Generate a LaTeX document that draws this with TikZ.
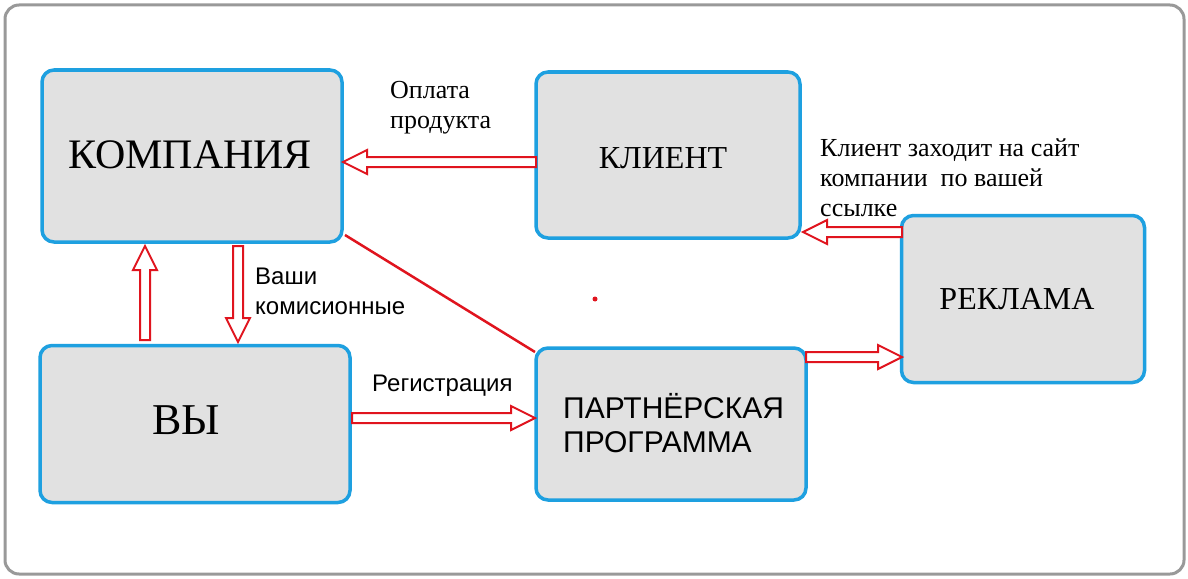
\documentclass[tikz,border=0pt]{standalone}
\usepackage{fontspec}
\setmainfont{Liberation Serif}
\newfontfamily\arial{Liberation Sans}
\usetikzlibrary{calc}
\definecolor{bblue}{HTML}{1EA0E0}
\definecolor{bgray}{HTML}{E1E1E1}
\definecolor{ared}{HTML}{E0141E}
\tikzset{
 box/.style={draw=bblue,line width=3.5pt,fill=bgray,rounded corners=12pt,inner sep=0pt},
 lbl/.style={font=\fontsize{26}{30}\selectfont,align=left,anchor=north west,inner sep=0pt},
 slbl/.style={font=\arial\fontsize{24}{30}\selectfont,align=left,anchor=north west,inner sep=0pt},
 ba/.style={draw=ared,line width=2pt,fill=white,line join=miter}
}
\newcommand\blockarr[2]{%
 \path let \p1=(#1),\p2=(#2),\n1={atan2(\y2-\y1,\x2-\x1)},\n2={veclen(\x2-\x1,\y2-\y1)} in
 [ba,shift={(\x1,\y1)},rotate=\n1]
 (0,-5) -- ({\n2-24},-5) -- ({\n2-24},-12) -- (\n2,0) -- ({\n2-24},12) -- ({\n2-24},5) -- (0,5) -- cycle;}
\begin{document}
\begin{tikzpicture}[x=1pt,y=-1pt]
\useasboundingbox (0,0) rectangle (1188,578);
\draw[draw=gray!80,line width=3pt,rounded corners=14pt,fill=white] (5,5) rectangle (1184,574);
\node[box,minimum width=300pt,minimum height=172pt] (komp) at (192,156) {};
\node[font=\fontsize{42}{46}\selectfont] at (190,155) {КОМПАНИЯ};
\node[box,minimum width=264pt,minimum height=166pt] (kl) at (668,155) {};
\node[font=\fontsize{32}{36}\selectfont] at (663,158) {КЛИЕНТ};
\node[box,minimum width=310pt,minimum height=157pt] (vy) at (195,424) {};
\node[font=\fontsize{44}{48}\selectfont] at (186,420) {ВЫ};
\node[box,minimum width=270pt,minimum height=152pt] (pp) at (671,424) {};
\node[font=\arial\fontsize{30}{34}\selectfont,align=left,anchor=west,inner sep=0pt] at (563,423) {ПАРТНЁРСКАЯ\\ПРОГРАММА};
\node[box,minimum width=243pt,minimum height=167pt] (rek) at (1023,299) {};
\node[font=\fontsize{32}{36}\selectfont] at (1017,299) {РЕКЛАМА};
% arrows
\coordinate (a1) at (536,162); \coordinate (a2) at (343,162);
\blockarr{a1}{a2}
\coordinate (b1) at (145,340); \coordinate (b2) at (145,246);
\blockarr{b1}{b2}
\coordinate (c1) at (238,246); \coordinate (c2) at (238,342);
\blockarr{c1}{c2}
\coordinate (d1) at (352,418); \coordinate (d2) at (535,418);
\blockarr{d1}{d2}
\coordinate (e1) at (806,357); \coordinate (e2) at (902,357);
\blockarr{e1}{e2}
\coordinate (f1) at (902,232); \coordinate (f2) at (803,232);
\blockarr{f1}{f2}
\coordinate (g1) at (345,235); \coordinate (g2) at (535,352);
\draw[ared,line width=2.5pt] (g1) -- (g2);
\fill[ared] (595,299) circle (2.5pt);
% labels
\node[lbl] (l1) at (390,81) {Оплата\\продукта};
\node[lbl] (l2) at (820,138) {Клиент заходит на сайт\\компании~~по вашей\\ссылке};
\node[slbl] (l3) at (255,268) {Ваши\\комисионные};
\node[slbl] (l4) at (372,375) {Регистрация};
\end{tikzpicture}
\end{document}
